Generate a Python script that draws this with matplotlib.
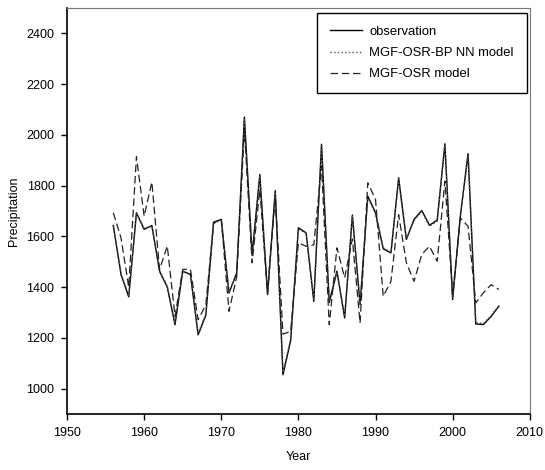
import matplotlib
matplotlib.use('Agg')
import matplotlib.pyplot as plt

plt.rcParams['font.family'] = ['Liberation Sans', 'DejaVu Sans']

# anos e valores
anos = list(range(1956, 2007))

observacao = [1643, 1450, 1362, 1693, 1628, 1643, 1462, 1400, 1252, 1463,
              1450, 1212, 1290, 1656, 1667,
              1377, 1456, 2070, 1529, 1844, 1371, 1780, 1055, 1190, 1634,
              1614, 1344, 1963, 1340, 1463, 1279,
              1684, 1331, 1759, 1693, 1551, 1535, 1831, 1588, 1667, 1702,
              1644, 1664, 1965, 1351, 1680, 1926, 1255, 1253, 1285, 1325]

modelo_bp = [1640, 1455, 1365, 1690, 1632, 1640, 1465, 1405, 1258, 1460,
             1455, 1218, 1295, 1650, 1664,
             1380, 1452, 2060, 1520, 1835, 1375, 1775, 1065, 1195, 1628,
             1612, 1350, 1955, 1345, 1460, 1285,
             1678, 1335, 1752, 1690, 1555, 1538, 1825, 1590, 1662, 1698,
             1640, 1660, 1958, 1356, 1676, 1918, 1260, 1257, 1288, 1328]

modelo_osr = [1693, 1594, 1400, 1914, 1680, 1814, 1470, 1562, 1285, 1470,
              1470, 1272, 1330, 1653, 1667,
              1305, 1440, 2022, 1496, 1785, 1377, 1759, 1215, 1226, 1575,
              1561, 1567, 1877, 1252, 1555, 1437,
              1590, 1259, 1811, 1746, 1364, 1423, 1686, 1496, 1423, 1529,
              1561, 1502, 1818, 1371, 1673, 1640, 1338, 1378, 1410, 1391]

fig = plt.figure(figsize=(5.45, 4.70), dpi=100)
ax = fig.add_axes([0.123, 0.119, 0.849, 0.864])

ax.plot(anos, observacao, color='black', linestyle='-', linewidth=1.0, label='observation')
ax.plot(anos, modelo_bp, color='#555555', linestyle=':', linewidth=1.0, label='MGF-OSR-BP NN model')
ax.plot(anos, modelo_osr, color='#222222', linestyle=(0, (6, 3)), linewidth=0.9, label='MGF-OSR model')

ax.set_xlim(1950, 2010)
ax.set_ylim(900, 2500)
ax.set_xticks(range(1950, 2011, 10))
ax.set_yticks(range(1000, 2401, 200))

ax.tick_params(direction='out', length=4, width=1, labelsize=9, pad=5, top=False, right=False)
for lado in ['left', 'bottom']:
    ax.spines[lado].set_color('black')
    ax.spines[lado].set_linewidth(1.2)
for lado in ['top', 'right']:
    ax.spines[lado].set_color('#777777')
    ax.spines[lado].set_linewidth(0.8)

ax.set_xlabel('Year', fontsize=9, labelpad=9)
ax.set_ylabel('Precipitation', fontsize=9, labelpad=5)

leg = ax.legend(loc='upper right', bbox_to_anchor=(0.994, 0.988), fontsize=9.4,
                fancybox=False, edgecolor='black', framealpha=1,
                handlelength=2.4, handletextpad=0.6, labelspacing=0.68,
                borderpad=1.0, borderaxespad=0)
leg.get_frame().set_linewidth(1.0)

plt.savefig('out.png', dpi=100)
